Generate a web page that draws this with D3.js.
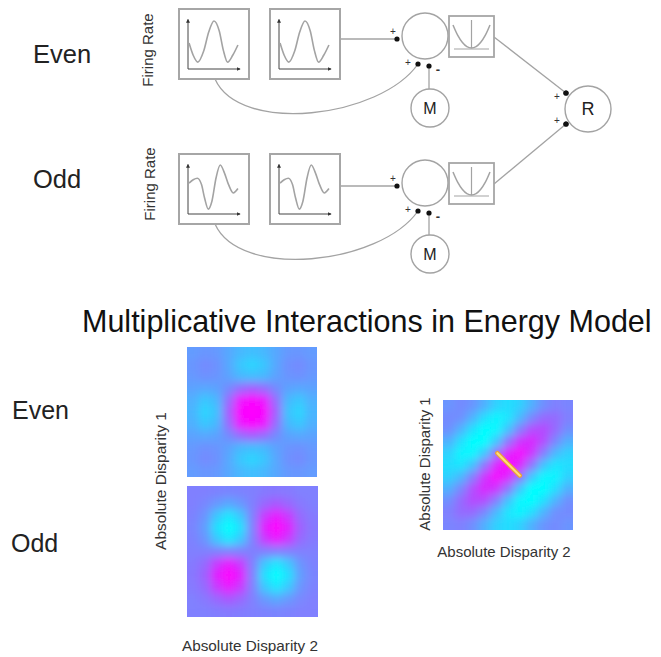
<!DOCTYPE html>
<html>
<head>
<meta charset="utf-8">
<script src="https://cdn.jsdelivr.net/npm/d3@7"></script>
<style>
body{margin:0;background:#fff;}
svg{display:block;font-family:Arial,"Liberation Sans",sans-serif;}
</style>
</head>
<body>
<div id="chart"></div>
<script>
// tuning curves (x,y on a 0-10 grid)
let evenCurve=[[0.2,5.3],[1.0,2.8],[1.9,1.4],[3.0,3.6],[4.0,7.6],[5.0,9.8],[6.0,7.8],[6.8,3.8],[7.6,1.4],[8.6,2.8],[9.6,4.9]];
let oddCurve=[[0.2,6.3],[1.0,7.0],[1.8,7.3],[2.6,6.0],[3.2,3.2],[3.9,1.0],[4.6,2.6],[5.4,7.4],[6.2,10],[7.0,8.4],[7.8,6.0],[8.7,4.3],[9.6,5.2]];
// squaring nonlinearity glyph
let squareX=[-1,-0.75,-0.5,-0.25,0,0.25,0.5,0.75,1];
let squareY=[1,0.56,0.25,0.06,0,0.06,0.25,0.56,1];

// heat maps, 0 = cyan .. 1 = magenta, rows top to bottom
let evenMap=[
[.39,.41,.40,.34,.28,.25,.28,.34,.40,.41,.39],
[.41,.46,.43,.34,.22,.16,.22,.34,.43,.46,.41],
[.40,.43,.42,.36,.28,.26,.28,.36,.42,.43,.40],
[.36,.34,.36,.46,.58,.64,.58,.46,.36,.34,.36],
[.31,.22,.28,.58,.92,.98,.92,.58,.28,.22,.31],
[.29,.16,.24,.64,.98,1.0,.98,.64,.24,.16,.29],
[.31,.22,.28,.58,.92,.98,.92,.58,.28,.22,.31],
[.36,.34,.36,.46,.58,.64,.58,.46,.36,.34,.36],
[.40,.43,.42,.36,.28,.26,.28,.36,.42,.43,.40],
[.41,.46,.43,.34,.22,.16,.22,.34,.43,.46,.41],
[.39,.41,.40,.34,.28,.25,.28,.34,.40,.41,.39]];
let oddMap=[
[.50,.50,.49,.48,.49,.50,.52,.53,.52,.50,.50],
[.50,.47,.40,.34,.40,.50,.60,.66,.60,.53,.50],
[.49,.42,.22,.10,.22,.50,.78,.90,.78,.58,.52],
[.48,.38,.12,.00,.12,.50,.88,1.0,.88,.62,.53],
[.49,.42,.22,.10,.22,.50,.78,.90,.78,.58,.52],
[.50,.50,.50,.50,.50,.50,.50,.50,.50,.50,.50],
[.52,.58,.78,.90,.78,.50,.22,.10,.22,.42,.49],
[.53,.62,.88,1.0,.88,.50,.12,.00,.12,.38,.48],
[.52,.58,.78,.90,.78,.50,.22,.10,.22,.42,.49],
[.50,.53,.60,.66,.60,.50,.40,.34,.40,.47,.50],
[.50,.50,.51,.52,.51,.50,.49,.48,.49,.50,.50]];
let energyMap=[
[.42,.46,.42,.31,.18,.13,.18,.31,.44,.50,.48],
[.46,.44,.30,.13,.04,.10,.28,.47,.59,.58,.50],
[.44,.30,.12,.00,.03,.24,.51,.70,.71,.59,.44],
[.31,.13,.00,.00,.22,.55,.80,.85,.70,.47,.31],
[.18,.04,.03,.22,.56,.86,.96,.80,.51,.28,.18],
[.13,.10,.24,.55,.86,1.0,.86,.55,.24,.10,.13],
[.18,.28,.51,.80,.96,.86,.56,.22,.03,.04,.18],
[.31,.47,.70,.85,.80,.55,.22,.00,.00,.13,.31],
[.44,.59,.71,.70,.51,.24,.03,.00,.12,.30,.44],
[.50,.58,.59,.47,.28,.10,.04,.13,.30,.44,.46],
[.48,.50,.44,.31,.18,.13,.18,.31,.42,.46,.42]];
// yellow marker on the energy map, in grid units
let markerSeg=[[4.6,4.5],[6.5,6.4]];

let width=661, height=657;
let gray="#a3a3a3";

let svg=d3.select("#chart").append("svg").attr("width",width).attr("height",height);
let defs=svg.append("defs");
defs.append("marker").attr("id","arrow").attr("viewBox","0 0 6 6")
 .attr("refX",5).attr("refY",3).attr("markerWidth",4).attr("markerHeight",4)
 .attr("orient","auto")
 .append("path").attr("d","M0,0L6,3L0,6Z").attr("fill","#333");
defs.append("filter").attr("id","soft").attr("x","-20%").attr("y","-20%").attr("width","140%").attr("height","140%")
 .append("feGaussianBlur").attr("stdDeviation",4.5);

let color=d3.scaleLinear().domain([0,1]).range(["#00ffff","#ff00ff"]).clamp(true);

///// top part: energy model diagram
let rows=[
 {label:"Even", curve:evenCurve, boxY:9, sumY:36, mY:108, sqY:16, labelY:63, rateX:148, rateY:50, rDot:-16},
 {label:"Odd", curve:oddCurve, boxY:154, sumY:183, mY:254, sqY:163, labelY:188, rateX:150, rateY:184, rDot:15}
];
let boxXs=[179,270], boxSize=70;
let sumX=425, sumR=23, mX=430, mR=19, sqX=449, sqW=45, sqH=41;
let rX=588, rY=109, rR=23;

function miniPlot(x0,y0,curve){
 let g=svg.append("g");
 g.append("rect").attr("x",x0).attr("y",y0).attr("width",boxSize).attr("height",boxSize)
  .attr("fill","none").attr("stroke","#a6a6a6").attr("stroke-width",2);
 let xs=d3.scaleLinear().domain([0,10]).range([x0+9,x0+61]);
 let ys=d3.scaleLinear().domain([0,10]).range([y0+60,y0+11]);
 g.append("line").attr("x1",xs(0)).attr("y1",ys(0)).attr("x2",xs(0)).attr("y2",ys(10.1))
  .attr("stroke","#444").attr("stroke-width",1).attr("marker-end","url(#arrow)");
 g.append("line").attr("x1",xs(0)).attr("y1",ys(0)).attr("x2",xs(10)).attr("y2",ys(0))
  .attr("stroke","#444").attr("stroke-width",1).attr("marker-end","url(#arrow)");
 let line=d3.line().x(d=>xs(d[0])).y(d=>ys(d[1])).curve(d3.curveMonotoneX);
 g.append("path").attr("d",line(curve)).attr("fill","none").attr("stroke",gray).attr("stroke-width",1.6);
}

function squarePlot(x0,y0){
 let g=svg.append("g");
 g.append("rect").attr("x",x0).attr("y",y0).attr("width",sqW).attr("height",sqH)
  .attr("fill","#fff").attr("stroke","#a6a6a6").attr("stroke-width",1.8);
 let xs=d3.scaleLinear().domain([-1,1]).range([x0+4,x0+41]);
 let ys=d3.scaleLinear().domain([0,1]).range([y0+32,y0+9]);
 g.append("line").attr("x1",x0+5).attr("x2",x0+40).attr("y1",y0+33).attr("y2",y0+33).attr("stroke",gray).attr("stroke-width",1.2);
 g.append("line").attr("x1",xs(0)).attr("x2",xs(0)).attr("y1",y0+4).attr("y2",y0+32).attr("stroke",gray).attr("stroke-width",1.2);
 let pts=squareX.map((x,i)=>[x,squareY[i]]);
 let line=d3.line().x(d=>xs(d[0])).y(d=>ys(d[1])).curve(d3.curveCatmullRom);
 g.append("path").attr("d",line(pts)).attr("fill","none").attr("stroke",gray).attr("stroke-width",1.5);
}

function dot(x,y){
 svg.append("circle").attr("cx",x).attr("cy",y).attr("r",2.6).attr("fill","#111");
}
function sign(x,y,s){
 svg.append("text").attr("x",x).attr("y",y).attr("text-anchor","middle").attr("dominant-baseline","central")
  .attr("font-size",s==="+"?10:13).attr("font-weight",s==="+"?"normal":"bold").attr("fill","#333").text(s);
}

rows.forEach(function(r){
 svg.append("text").attr("x",33).attr("y",r.labelY).attr("font-size",25.5).attr("fill","#222").text(r.label);
 svg.append("text").attr("transform","translate("+r.rateX+","+r.rateY+") rotate(-90)")
  .attr("text-anchor","middle").attr("dy","0.35em").attr("font-size",15).attr("fill","#333").text("Firing Rate");

 // connections first so nodes sit on top
 let d1x=sumX-7, d1y=r.sumY+28, d2x=sumX+4, d2y=r.sumY+30, dlY=r.sumY+3;
 let sx=boxXs[0]+36, sy=r.boxY+boxSize;
 svg.append("path").attr("d","M"+sx+","+sy+" C240,"+(sy+56)+" 380,"+(d1y+54)+" "+d1x+","+d1y)
  .attr("fill","none").attr("stroke",gray).attr("stroke-width",1.3);
 svg.append("line").attr("x1",boxXs[1]+boxSize).attr("y1",dlY).attr("x2",sumX-28).attr("y2",dlY)
  .attr("stroke",gray).attr("stroke-width",1.3);
 svg.append("line").attr("x1",d2x).attr("y1",d2y).attr("x2",d2x).attr("y2",r.mY-mR)
  .attr("stroke",gray).attr("stroke-width",1.3);
 svg.append("line").attr("x1",sqX+sqW).attr("y1",r.sqY+21).attr("x2",rX-22).attr("y2",rY+r.rDot)
  .attr("stroke",gray).attr("stroke-width",1.3);

 boxXs.forEach(x=>miniPlot(x,r.boxY,r.curve));

 svg.append("circle").attr("cx",sumX).attr("cy",r.sumY).attr("r",sumR).attr("fill","#fff").attr("stroke",gray).attr("stroke-width",1.4);
 squarePlot(sqX,r.sqY);
 svg.append("circle").attr("cx",mX).attr("cy",r.mY).attr("r",mR).attr("fill","#fff").attr("stroke",gray).attr("stroke-width",1.4);
 svg.append("text").attr("x",mX).attr("y",r.mY).attr("text-anchor","middle").attr("dy","0.36em")
  .attr("font-size",16).attr("fill","#222").text("M");

 dot(sumX-28,dlY); sign(sumX-32,r.sumY-5,"+");
 dot(d1x,d1y); sign(sumX-17,r.sumY+26,"+");
 dot(d2x,d2y); sign(sumX+13,r.sumY+33,"-");
 dot(rX-22,rY+r.rDot); sign(rX-31,rY+r.rDot+(r.rDot<0?3:-4),"+");
});

svg.append("circle").attr("cx",rX).attr("cy",rY).attr("r",rR).attr("fill","#fff").attr("stroke",gray).attr("stroke-width",1.4);
svg.append("text").attr("x",rX).attr("y",rY).attr("text-anchor","middle").attr("dy","0.36em")
 .attr("font-size",18).attr("fill","#222").text("R");
dot(rX-22,rY-16); dot(rX-22,rY+15);

///// bottom part: heat maps
svg.append("text").attr("x",82).attr("y",332).attr("font-size",30.5).attr("fill","#111")
 .text("Multiplicative Interactions in Energy Model");

function heatmap(id,values,x0,y0,size){
 let n=values.length;
 let xb=d3.scaleBand().domain(d3.range(n)).range([x0,x0+size]);
 let yb=d3.scaleBand().domain(d3.range(n)).range([y0,y0+size]);
 defs.append("clipPath").attr("id","clip-"+id).append("rect")
  .attr("x",x0).attr("y",y0).attr("width",size).attr("height",size);
 let inner=svg.append("g").attr("clip-path","url(#clip-"+id+")")
  .append("g").attr("filter","url(#soft)");
 let cells=[];
 values.forEach((row,r)=>row.forEach((v,c)=>cells.push({r:r,c:c,v:v})));
 let pad=16, bw=xb.bandwidth();
 inner.selectAll("rect").data(cells).enter().append("rect")
  .attr("x",d=>xb(d.c)-(d.c===0?pad:0))
  .attr("y",d=>yb(d.r)-(d.r===0?pad:0))
  .attr("width",d=>bw+0.6+(d.c===0?pad:0)+(d.c===n-1?pad:0))
  .attr("height",d=>bw+0.6+(d.r===0?pad:0)+(d.r===n-1?pad:0))
  .attr("fill",d=>color(d.v));
 return {gx:d3.scaleLinear().domain([0,n]).range([x0,x0+size]),
         gy:d3.scaleLinear().domain([0,n]).range([y0,y0+size])};
}

heatmap("even",evenMap,187,347,130);
heatmap("odd",oddMap,187,486,131);
let em=heatmap("energy",energyMap,443,400,130);

svg.append("line").attr("x1",em.gx(markerSeg[0][0])).attr("y1",em.gy(markerSeg[0][1]))
 .attr("x2",em.gx(markerSeg[1][0])).attr("y2",em.gy(markerSeg[1][1]))
 .attr("stroke","#e9a23b").attr("stroke-width",4.5).attr("stroke-linecap","round");
svg.append("line").attr("x1",em.gx(markerSeg[0][0])).attr("y1",em.gy(markerSeg[0][1]))
 .attr("x2",em.gx(markerSeg[1][0])).attr("y2",em.gy(markerSeg[1][1]))
 .attr("stroke","#ffe07a").attr("stroke-width",2).attr("stroke-linecap","round");

svg.append("text").attr("x",12).attr("y",419).attr("font-size",25).attr("fill","#222").text("Even");
svg.append("text").attr("x",11).attr("y",552).attr("font-size",25).attr("fill","#222").text("Odd");

svg.append("text").attr("transform","translate(161,481) rotate(-90)").attr("text-anchor","middle")
 .attr("dy","0.35em").attr("font-size",15.5).attr("fill","#333").text("Absolute Disparity 1");
svg.append("text").attr("x",250).attr("y",651).attr("text-anchor","middle")
 .attr("font-size",15.3).attr("fill","#333").text("Absolute Disparity 2");
svg.append("text").attr("transform","translate(425,464) rotate(-90)").attr("text-anchor","middle")
 .attr("dy","0.35em").attr("font-size",15).attr("fill","#333").text("Absolute Disparity 1");
svg.append("text").attr("x",504).attr("y",557).attr("text-anchor","middle")
 .attr("font-size",15).attr("fill","#333").text("Absolute Disparity 2");
</script>
</body>
</html>
